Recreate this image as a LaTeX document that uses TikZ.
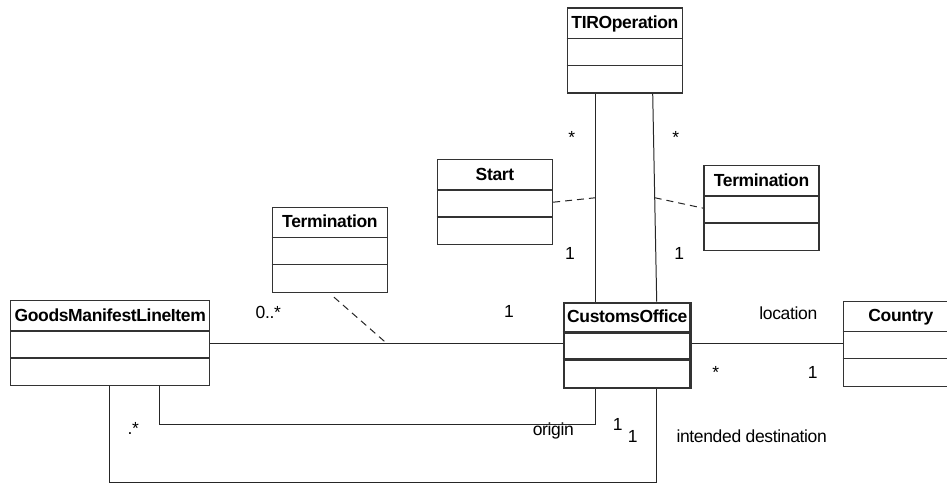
\documentclass[tikz,border=0pt]{standalone}
\usepackage{fontspec}
\setmainfont{Liberation Sans}[LetterSpace=-2]
\usetikzlibrary{calc}
\tikzset{
	classline/.style={draw=black!80, line width=0.5mm},
	classbox/.style={classline, inner sep=0pt, minimum height=85, anchor=north west},
	classtitle/.style={font=\fontsize{17.5}{19}\selectfont\bfseries, inner sep=0pt, anchor=base},
	mult/.style={font=\fontsize{17.5}{19}\selectfont, inner sep=0pt, anchor=base},
	star/.style={mult, anchor=north},
	assoc/.style={line width=0.35mm, color=black!85},
	assocdash/.style={assoc, dash pattern=on 7pt off 5pt},
}
% box with name and two empty compartments
\def\umlclass[#1](#2)(#3)(#4)#5{
	\node[classbox, minimum width=#4, #1] (#2) at (#3) {};
	\node[classtitle] (#2-title) at ($(#2.north)+(0,21)$) {#5};
	\draw[classline, #1] ($(#2.north west)+(0,31)$) -- ($(#2.north east)+(0,31)$);
	\draw[classline, #1] ($(#2.north west)+(0,58)$) -- ($(#2.north east)+(0,58)$);
}
\begin{document}
\begin{tikzpicture}[x=1pt, y=-1pt]
			%%%%% START %%%%%
			\clip (0, 0) rectangle (947, 482);
			\fill[white] (0, 0) rectangle (947, 482);
			
			\umlclass[](tir)(566.7, 7.3)(115){TIROperation}
			\umlclass[](start)(436.7, 159)(115){Start}
			\umlclass[](termR)(703.3, 165)(115){Termination}
			\umlclass[](termL)(271.7, 206.7)(115){Termination}
			\umlclass[line width=0.9mm](co)(562.7, 301.7)(126.6){CustomsOffice}
			\umlclass[](country)(842.7, 300.7)(115){Country}
			\umlclass[](gml)(10, 300)(199){GoodsManifestLineItem}
			
			\draw[assoc] ($(tir.south west)+(29, 0)$) -- coordinate (startj) ($(co.north west)+(33, 0)$);
			\draw[assoc] ($(tir.south west)+(86, 0)$) -- coordinate (termRj) ($(co.north west)+(94, 0)$);
			\draw[assocdash] (start.east) -- (startj);
			\draw[assocdash] (termRj) -- (termR.west);
			
			\draw[assoc] (gml.east) -- coordinate (termLj) (gml.east -| co.west);
			\draw[assocdash] ($(termL.south)+(4, 4)$) -- (termLj);
			
			\draw[assoc] (co.east |- gml.east) -- (gml.east -| country.west);
			
			\draw[assoc] ($(co.south west)+(32.3, 0)$) -- ++(0, 35) -| ($(gml.south west)+(149, 0)$);
			\draw[assoc] ($(co.south west)+(94, 0)$) -- ++(0, 93.3) -| ($(gml.south west)+(99.7, 0)$);
			
			\node[star] (tirS1) at (571.7, 131) {*};
			\node[star] (tirS2) at (675.7, 131) {*};
			\node[mult] (startM) at (570, 259.3) {1};
			\node[mult] (termRM) at (679.3, 259.3) {1};
			
			\node[mult] (gmlM) at (268.3, 318.3) {0..*};
			\node[mult] (coM) at (509, 317.7) {1};
			
			\node[mult] (locL) at (788.3, 319) {location};
			\node[star] (locS) at (715.7, 366) {*};
			\node[mult] (locM) at (812.7, 378.3) {1};
			
			\node[mult] (originL) at (553.3, 435) {origin};
			\node[mult] (originM) at (617.7, 430.7) {1};
			\node[mult] (destM) at (632.7, 442.3) {1};
			\node[mult] (destL) at (751.7, 442.3) {intended destination};
			\node[mult] (gmlS) at (133.3, 434) {.*};
			%%%%% END %%%%%
\end{tikzpicture}
\end{document}
